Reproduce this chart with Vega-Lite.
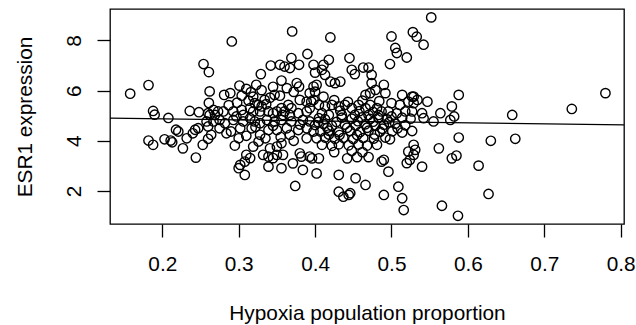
{
"$schema": "https://vega.github.io/schema/vega-lite/v6.json",
"width": 514, "height": 215,
"autosize": {"type": "none"},
"padding": {"left": 110, "top": 9, "right": 12, "bottom": 101},
"background": "white",
"config": {
  "view": {"stroke": "black", "strokeWidth": 1.3},
  "axis": {"domain": false, "grid": false, "tickColor": "black", "tickWidth": 1.3, "tickSize": 13,
           "labelFont": "Liberation Sans", "labelFontSize": 20.8, "labelColor": "black",
           "titleFont": "Liberation Sans", "titleFontSize": 20.8, "titleFontWeight": "normal", "titleColor": "black"}
},
"datasets": {
  "pts": [
{"x":0.158,"y":5.88},{"x":0.182,"y":6.22},{"x":0.254,"y":7.06},{"x":0.261,"y":6.74},{"x":0.262,"y":5.97},{"x":0.261,"y":5.51},
{"x":0.188,"y":5.19},{"x":0.190,"y":5.04},{"x":0.208,"y":4.91},{"x":0.236,"y":5.19},{"x":0.248,"y":5.14},{"x":0.260,"y":5.10},
{"x":0.218,"y":4.44},{"x":0.221,"y":4.37},{"x":0.182,"y":4.01},{"x":0.188,"y":3.84},{"x":0.203,"y":4.06},{"x":0.211,"y":4.01},{"x":0.213,"y":3.94},
{"x":0.227,"y":3.70},{"x":0.232,"y":4.10},{"x":0.243,"y":4.44},{"x":0.247,"y":4.50},{"x":0.240,"y":4.30},{"x":0.253,"y":3.84},{"x":0.244,"y":3.33},
{"x":0.260,"y":4.08},{"x":0.258,"y":4.77},{"x":0.260,"y":4.57},{"x":0.264,"y":4.24},
{"x":0.291,"y":7.96},{"x":0.370,"y":8.36},{"x":0.390,"y":7.46},{"x":0.369,"y":7.30},{"x":0.379,"y":7.03},{"x":0.367,"y":6.90},{"x":0.360,"y":6.96},
{"x":0.354,"y":7.03},{"x":0.342,"y":7.00},{"x":0.329,"y":6.66},{"x":0.376,"y":6.30},{"x":0.379,"y":6.16},{"x":0.363,"y":6.10},{"x":0.323,"y":6.23},
{"x":0.310,"y":6.07},{"x":0.301,"y":6.20},{"x":0.316,"y":5.94},{"x":0.289,"y":5.90},{"x":0.281,"y":5.83},{"x":0.304,"y":5.80},{"x":0.319,"y":5.76},
{"x":0.347,"y":5.83},{"x":0.354,"y":5.80},{"x":0.341,"y":5.72},{"x":0.334,"y":5.63},{"x":0.393,"y":5.90},{"x":0.398,"y":6.16},{"x":0.389,"y":5.56},
{"x":0.395,"y":5.56},{"x":0.380,"y":5.63},{"x":0.365,"y":5.43},{"x":0.369,"y":5.30},{"x":0.356,"y":5.30},{"x":0.360,"y":5.17},{"x":0.321,"y":5.50},
{"x":0.326,"y":5.43},{"x":0.330,"y":5.37},{"x":0.336,"y":5.46},{"x":0.315,"y":5.30},{"x":0.319,"y":5.17},{"x":0.328,"y":5.17},{"x":0.339,"y":5.17},
{"x":0.345,"y":5.10},{"x":0.267,"y":5.23},{"x":0.273,"y":5.17},{"x":0.262,"y":5.03},{"x":0.269,"y":5.03},{"x":0.280,"y":5.17},{"x":0.293,"y":5.17},
{"x":0.304,"y":5.23},{"x":0.306,"y":5.03},{"x":0.297,"y":4.97},{"x":0.350,"y":5.17},{"x":0.358,"y":5.03},{"x":0.367,"y":5.03},{"x":0.378,"y":5.10},
{"x":0.389,"y":5.17},{"x":0.393,"y":5.30},
{"x":0.330,"y":6.02},{"x":0.345,"y":6.15},{"x":0.356,"y":6.40},{"x":0.313,"y":5.60},{"x":0.298,"y":5.52},{"x":0.287,"y":5.42},{"x":0.372,"y":5.95},
{"x":0.267,"y":4.77},{"x":0.275,"y":4.83},{"x":0.282,"y":4.70},{"x":0.293,"y":4.83},{"x":0.302,"y":4.50},{"x":0.306,"y":4.77},{"x":0.315,"y":4.90},
{"x":0.317,"y":4.50},{"x":0.321,"y":4.77},{"x":0.328,"y":4.70},{"x":0.337,"y":4.83},{"x":0.339,"y":4.43},{"x":0.347,"y":4.77},{"x":0.350,"y":4.43},
{"x":0.356,"y":4.83},{"x":0.363,"y":4.50},{"x":0.369,"y":4.77},{"x":0.378,"y":4.43},{"x":0.384,"y":4.83},{"x":0.389,"y":4.50},{"x":0.393,"y":4.77},
{"x":0.398,"y":4.37},
{"x":0.295,"y":3.81},{"x":0.319,"y":3.77},{"x":0.326,"y":3.97},{"x":0.310,"y":3.44},{"x":0.315,"y":3.31},{"x":0.308,"y":3.17},{"x":0.302,"y":3.04},
{"x":0.300,"y":2.91},{"x":0.308,"y":2.64},{"x":0.332,"y":3.44},{"x":0.339,"y":3.37},{"x":0.345,"y":3.31},{"x":0.350,"y":3.44},{"x":0.341,"y":3.70},
{"x":0.350,"y":3.77},{"x":0.356,"y":3.90},{"x":0.339,"y":2.97},{"x":0.358,"y":3.44},{"x":0.356,"y":2.91},{"x":0.371,"y":3.10},{"x":0.380,"y":3.50},
{"x":0.382,"y":3.37},{"x":0.393,"y":3.37},{"x":0.384,"y":2.84},{"x":0.402,"y":2.70},{"x":0.374,"y":2.20},{"x":0.284,"y":4.30},{"x":0.328,"y":4.24},
{"x":0.367,"y":4.24},{"x":0.389,"y":4.10},{"x":0.275,"y":4.50},{"x":0.290,"y":4.37},{"x":0.310,"y":4.20},{"x":0.335,"y":4.10},{"x":0.355,"y":4.15},
{"x":0.372,"y":4.00},{"x":0.300,"y":4.10},{"x":0.345,"y":4.60},{"x":0.380,"y":4.65},{"x":0.322,"y":4.55},
{"x":0.420,"y":8.12},{"x":0.500,"y":8.16},{"x":0.528,"y":8.33},{"x":0.533,"y":8.15},{"x":0.542,"y":7.83},{"x":0.505,"y":7.70},{"x":0.507,"y":7.50},
{"x":0.520,"y":7.32},{"x":0.498,"y":7.06},{"x":0.445,"y":7.30},{"x":0.448,"y":6.83},{"x":0.452,"y":6.66},{"x":0.463,"y":6.92},{"x":0.470,"y":6.92},
{"x":0.474,"y":6.63},{"x":0.418,"y":7.23},{"x":0.411,"y":7.03},{"x":0.409,"y":6.83},{"x":0.413,"y":6.63},{"x":0.420,"y":6.36},{"x":0.426,"y":6.30},
{"x":0.433,"y":6.36},{"x":0.398,"y":7.03},{"x":0.400,"y":6.72},{"x":0.402,"y":6.23},{"x":0.400,"y":5.96},{"x":0.411,"y":5.76},{"x":0.398,"y":5.63},
{"x":0.474,"y":6.30},{"x":0.479,"y":6.03},{"x":0.490,"y":6.23},{"x":0.492,"y":5.90},{"x":0.472,"y":5.90},{"x":0.466,"y":5.83},{"x":0.514,"y":5.83},
{"x":0.527,"y":5.76},{"x":0.522,"y":5.56},{"x":0.500,"y":5.50},{"x":0.511,"y":5.43},
{"x":0.405,"y":5.43},{"x":0.413,"y":5.37},{"x":0.422,"y":5.43},{"x":0.431,"y":5.37},{"x":0.439,"y":5.43},{"x":0.448,"y":5.30},{"x":0.457,"y":5.43},
{"x":0.466,"y":5.30},{"x":0.472,"y":5.43},{"x":0.481,"y":5.30},{"x":0.487,"y":5.17},{"x":0.496,"y":5.17},{"x":0.507,"y":5.10},{"x":0.518,"y":5.17},
{"x":0.527,"y":5.17},{"x":0.409,"y":5.10},{"x":0.418,"y":5.03},{"x":0.435,"y":5.03},{"x":0.452,"y":5.03},{"x":0.470,"y":5.03},{"x":0.483,"y":5.03},
{"x":0.500,"y":4.97},
{"x":0.433,"y":5.20},{"x":0.458,"y":5.18},{"x":0.476,"y":5.15},{"x":0.443,"y":5.55},{"x":0.462,"y":5.60},{"x":0.484,"y":5.58},{"x":0.425,"y":5.62},
{"x":0.405,"y":4.90},{"x":0.413,"y":4.86},{"x":0.435,"y":4.92},{"x":0.448,"y":4.88},{"x":0.461,"y":4.93},{"x":0.472,"y":4.87},{"x":0.483,"y":4.91},
{"x":0.494,"y":4.86},{"x":0.514,"y":4.92},{"x":0.525,"y":4.88},
{"x":0.428,"y":4.75},{"x":0.442,"y":4.52},{"x":0.456,"y":4.78},{"x":0.468,"y":4.52},{"x":0.476,"y":4.76},{"x":0.488,"y":4.48},{"x":0.497,"y":4.74},
{"x":0.508,"y":4.50},{"x":0.416,"y":4.52},{"x":0.404,"y":4.75},
{"x":0.400,"y":4.63},{"x":0.411,"y":4.67},{"x":0.422,"y":4.60},{"x":0.439,"y":4.65},{"x":0.453,"y":4.61},{"x":0.466,"y":4.66},{"x":0.479,"y":4.60},
{"x":0.490,"y":4.64},{"x":0.505,"y":4.68},{"x":0.518,"y":4.62},
{"x":0.407,"y":4.37},{"x":0.418,"y":4.40},{"x":0.431,"y":4.34},{"x":0.446,"y":4.39},{"x":0.459,"y":4.35},{"x":0.470,"y":4.40},{"x":0.485,"y":4.36},
{"x":0.501,"y":4.38},{"x":0.514,"y":4.33},{"x":0.527,"y":4.39},
{"x":0.432,"y":4.23},{"x":0.455,"y":4.23},{"x":0.478,"y":4.25},{"x":0.418,"y":4.25},
{"x":0.402,"y":4.10},{"x":0.413,"y":4.13},{"x":0.426,"y":4.08},{"x":0.437,"y":4.12},{"x":0.450,"y":4.07},{"x":0.463,"y":4.11},{"x":0.477,"y":4.09},
{"x":0.492,"y":4.13},{"x":0.498,"y":4.06},
{"x":0.409,"y":3.84},{"x":0.422,"y":3.80},{"x":0.431,"y":3.86},{"x":0.444,"y":3.82},{"x":0.457,"y":3.85},{"x":0.468,"y":3.81},{"x":0.481,"y":3.84},
{"x":0.522,"y":3.57},{"x":0.529,"y":3.44},
{"x":0.425,"y":3.55},{"x":0.442,"y":3.30},{"x":0.455,"y":3.35},{"x":0.448,"y":3.60},{"x":0.462,"y":3.55},{"x":0.470,"y":3.35},
{"x":0.405,"y":3.30},{"x":0.431,"y":2.64},{"x":0.453,"y":2.51},{"x":0.466,"y":2.24},{"x":0.431,"y":1.97},{"x":0.437,"y":1.77},{"x":0.446,"y":1.91},
{"x":0.444,"y":1.84},{"x":0.490,"y":3.24},{"x":0.496,"y":2.77},{"x":0.487,"y":3.17},{"x":0.490,"y":1.84},{"x":0.509,"y":2.17},{"x":0.514,"y":1.71},
{"x":0.516,"y":1.24},{"x":0.520,"y":3.11},{"x":0.524,"y":3.24},{"x":0.396,"y":3.30},
{"x":0.552,"y":8.92},{"x":0.579,"y":5.37},{"x":0.588,"y":5.83},{"x":0.529,"y":5.76},{"x":0.534,"y":5.63},{"x":0.547,"y":5.56},{"x":0.529,"y":5.50},
{"x":0.540,"y":5.10},{"x":0.564,"y":5.10},{"x":0.582,"y":4.97},{"x":0.658,"y":5.03},{"x":0.542,"y":4.90},{"x":0.555,"y":4.77},{"x":0.577,"y":4.83},
{"x":0.529,"y":3.84},{"x":0.531,"y":3.64},{"x":0.540,"y":2.97},{"x":0.562,"y":3.70},{"x":0.579,"y":3.30},{"x":0.585,"y":3.41},{"x":0.588,"y":4.13},
{"x":0.614,"y":3.01},{"x":0.630,"y":4.00},{"x":0.662,"y":4.08},{"x":0.627,"y":1.88},{"x":0.566,"y":1.41},{"x":0.587,"y":1.01},{"x":0.736,"y":5.27},
{"x":0.780,"y":5.90}
  ],
  "fit": [{"x": 0.1316, "y": 4.90, "x2": 0.8043, "y2": 4.635}]
},
"layer": [
  {
    "data": {"name": "pts"},
    "mark": {"type": "point", "shape": "circle", "filled": false, "stroke": "black", "strokeWidth": 1.4, "size": 88, "opacity": 1},
    "encoding": {
      "x": {"field": "x", "type": "quantitative",
            "scale": {"domain": [0.1316, 0.8043], "nice": false, "zero": false},
            "axis": {"values": [0.2, 0.3, 0.4, 0.5, 0.6, 0.7, 0.8], "format": ".1f",
                     "labelBaseline": "alphabetic", "labelPadding": 33, "labelAlign": "center",
                     "title": "Hypoxia population proportion", "titleX": 257, "titleY": 95,
                     "titleBaseline": "alphabetic", "titleAlign": "center"}},
      "y": {"field": "y", "type": "quantitative",
            "scale": {"domain": [0.683, 9.254], "nice": false, "zero": false},
            "axis": {"values": [2, 4, 6, 8], "labelAngle": -90, "labelAlign": "center",
                     "labelBaseline": "alphabetic", "labelPadding": 17,
                     "title": "ESR1 expression", "titleX": -79, "titleY": 107.5, "titleAngle": -90,
                     "titleBaseline": "alphabetic", "titleAlign": "center"}}
    }
  },
  {
    "data": {"name": "fit"},
    "mark": {"type": "rule", "color": "black", "strokeWidth": 1.3},
    "encoding": {
      "x": {"field": "x", "type": "quantitative"},
      "y": {"field": "y", "type": "quantitative"},
      "x2": {"field": "x2"},
      "y2": {"field": "y2"}
    }
  }
]
}
